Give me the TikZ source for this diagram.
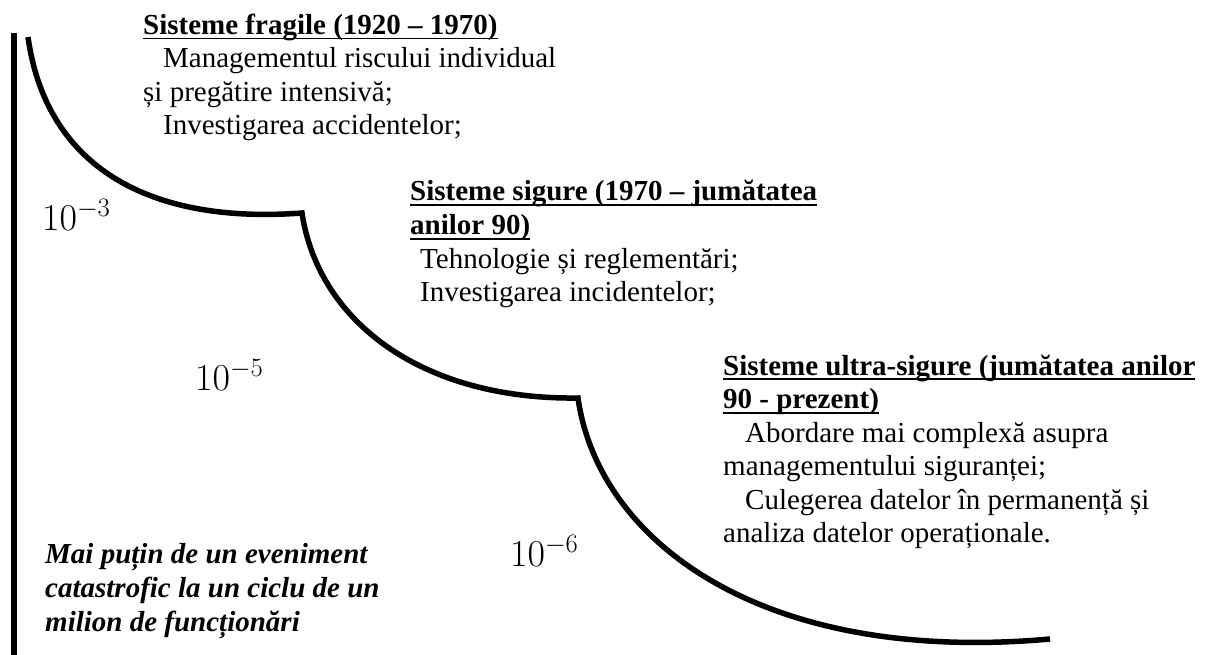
\documentclass[tikz,border=0pt]{standalone}
\usepackage{fix-cm}
\usepackage{fontspec}
\setmainfont{Liberation Serif}

\tikzset{
  wall/.style={line width=6pt},
  stair/.style={line width=5.5pt, line join=miter},
  body/.style={anchor=base west, inner sep=0pt, align=left,
    font=\fontsize{29}{33.5}\selectfont},
  note/.style={anchor=base west, inner sep=0pt, align=left,
    font=\fontsize{29}{34}\selectfont\bfseries\itshape},
  rate/.style={anchor=base west, inner sep=0pt,
    font=\fontsize{38}{38}\selectfont},
}
% bold, underlined heading line
\newsavebox{\headbox}
\newcommand{\heading}[1]{%
  \sbox{\headbox}{\bfseries #1}%
  \usebox{\headbox}\llap{\rule[-5pt]{\wd\headbox}{1.7pt}}}

\begin{document}
\begin{tikzpicture}[x=1pt,y=-1pt]
  \useasboundingbox (0,0) rectangle (1210,655);

  % vertical axis
  \coordinate (axtop) at (13.5,33);
  \coordinate (axbot) at (13.5,655);
  \draw[wall] (axtop) -- (axbot);

  % three descending steps of the safety curve
  \coordinate (s0) at (28,37);
  \coordinate (k1) at (302,213);
  \coordinate (k2) at (578,398);
  \coordinate (s3) at (1050,639);
  \draw[stair] (s0) .. controls (45,160) and (140,225) .. (k1)
               .. controls (318,320) and (420,400) .. (k2)
               .. controls (598,540) and (760,665) .. (s3);

  % era descriptions (anchored at the baseline of their last line)
  \node[body] (fragile) at (143,135) {%
    \heading{Sisteme fragile (1920 – 1970)}\\
    \hspace*{20pt}Managementul riscului individual\\
    și pregătire intensivă;\\
    \hspace*{20pt}Investigarea accidentelor;};

  \node[body] (sigure) at (410,301.5) {%
    \heading{Sisteme sigure (1970 – jumătatea}\\
    \heading{anilor 90)}\\
    \hspace*{10pt}Tehnologie și reglementări;\\
    \hspace*{10pt}Investigarea incidentelor;};

  \node[body] (ultra) at (723,542.5) {%
    \heading{Sisteme ultra-sigure (jumătatea anilor}\\
    \heading{90 - prezent)}\\
    \hspace*{22pt}Abordare mai complexă asupra\\
    managementului siguranței;\\
    \hspace*{22pt}Culegerea datelor în permanență și\\
    analiza datelor operaționale.};

  \node[note] (million) at (45,631) {%
    Mai puțin de un eveniment\\
    catastrofic la un ciclu de un\\
    milion de funcționări};

  % failure rates
  \node[rate] (r3) at (42,230) {$10^{-3}$};
  \node[rate] (r5) at (195,390) {$10^{-5}$};
  \node[rate] (r6) at (510,566) {$10^{-6}$};
\end{tikzpicture}
\end{document}
